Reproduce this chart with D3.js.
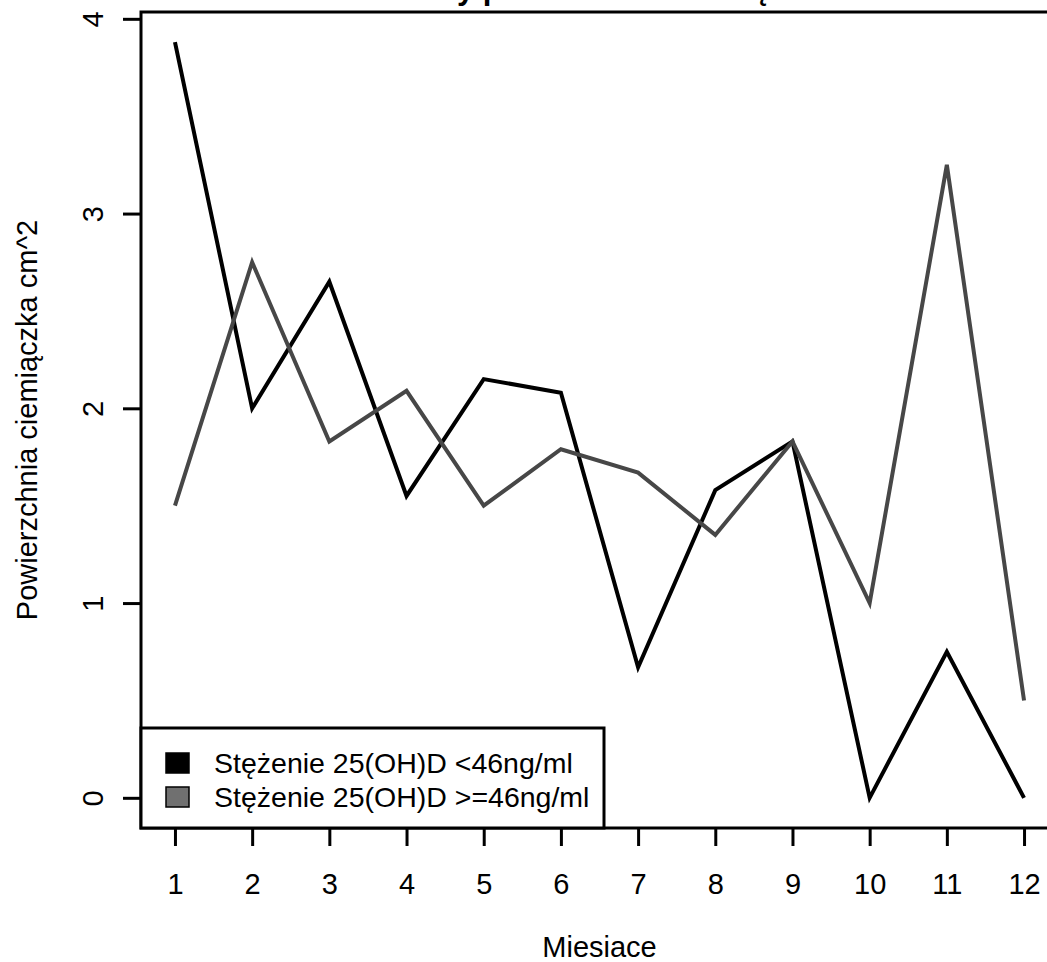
<!DOCTYPE html>
<html>
<head>
<meta charset="utf-8">
<script src="https://cdn.jsdelivr.net/npm/d3@7"></script>
<style>
  body { margin: 0; background: #fff; }
  svg text { font-family: "Liberation Sans", Arial, sans-serif; fill: #000; }
</style>
</head>
<body>
<div id="chart"></div>
<script>
// months on x axis
var months = [1, 2, 3, 4, 5, 6, 7, 8, 9, 10, 11, 12];
// Stezenie 25(OH)D <46ng/ml
var lowGroup = [3.88, 2.0, 2.65, 1.55, 2.15, 2.08, 0.67, 1.58, 1.83, 0, 0.75, 0];
// Stezenie 25(OH)D >=46ng/ml
var highGroup = [1.5, 2.75, 1.83, 2.09, 1.5, 1.79, 1.67, 1.35, 1.83, 1.0, 3.25, 0.5];
var yTicks = [0, 1, 2, 3, 4];
var seriesNames = ["Stężenie 25(OH)D <46ng/ml", "Stężenie 25(OH)D >=46ng/ml"];

var W = 1047, H = 962;
var fontSize = 29;

var svg = d3.select("#chart").append("svg")
	.attr("width", W)
	.attr("height", H);

// R style: axes extend 4% beyond the data range
var x = d3.scaleLinear().domain([0.56, 12.44]).range([141, 1058]);
var y = d3.scaleLinear().domain([-0.155, 4.035]).range([828, 12]);

var plotLeft = x.range()[0], plotRight = x.range()[1];
var plotBottom = y.range()[0], plotTop = y.range()[1];

// title (mostly cut off at the top edge, as in the source image)
svg.append("text")
	.attr("x", 600)
	.attr("y", -1)
	.attr("text-anchor", "middle")
	.style("font-size", "31px")
	.style("font-weight", "bold")
	.text("Zmiany powierzchni ciemiączka");

// x axis
var xAxis = svg.append("g")
	.attr("transform", "translate(0," + plotBottom + ")")
	.call(d3.axisBottom(x).tickValues(months).tickSize(18).tickFormat(d3.format("d")));
xAxis.select(".domain").remove();
xAxis.selectAll("line").attr("stroke", "#000").attr("stroke-width", 3);
xAxis.selectAll("text").style("font-size", fontSize + "px").attr("dy", "0.35em").attr("y", 56);

// y axis, labels rotated like R's default
var yAxis = svg.append("g")
	.attr("transform", "translate(" + plotLeft + ",0)")
	.call(d3.axisLeft(y).tickValues(yTicks).tickSize(18).tickFormat(d3.format("d")));
yAxis.select(".domain").remove();
yAxis.selectAll("line").attr("stroke", "#000").attr("stroke-width", 3);
yAxis.selectAll("text")
	.style("font-size", fontSize + "px")
	.attr("text-anchor", "middle")
	.attr("x", 0)
	.attr("y", -48)
	.attr("dy", "0.35em")
	.attr("transform", "rotate(-90)");

// axis titles
svg.append("text")
	.attr("x", (plotLeft + plotRight) / 2)
	.attr("y", 957)
	.attr("text-anchor", "middle")
	.style("font-size", fontSize + "px")
	.text("Miesiace");

svg.append("text")
	.attr("transform", "translate(37," + ((plotTop + plotBottom) / 2) + ") rotate(-90)")
	.attr("text-anchor", "middle")
	.style("font-size", fontSize + "px")
	.text("Powierzchnia ciemiączka cm^2");

// lines
var line = d3.line()
	.x(function(d, i) { return x(months[i]); })
	.y(function(d) { return y(d); });

var series = [
	{ values: lowGroup, color: "#000", fill: "#000" },
	{ values: highGroup, color: "#474747", fill: "#707070" }
];

svg.selectAll(".series")
	.data(series)
	.enter()
	.append("path")
	.attr("class", "series")
	.attr("d", function(d) { return line(d.values); })
	.attr("fill", "none")
	.attr("stroke", function(d) { return d.color; })
	.attr("stroke-width", 4)
	.attr("stroke-linejoin", "miter");

// plot box
svg.append("rect")
	.attr("x", plotLeft)
	.attr("y", plotTop)
	.attr("width", plotRight - plotLeft)
	.attr("height", plotBottom - plotTop)
	.attr("fill", "none")
	.attr("stroke", "#000")
	.attr("stroke-width", 3);

// legend, bottom left corner
var legend = svg.append("g");
legend.append("rect")
	.attr("x", plotLeft)
	.attr("y", 728)
	.attr("width", 604 - plotLeft)
	.attr("height", plotBottom - 728)
	.attr("fill", "#fff")
	.attr("stroke", "#000")
	.attr("stroke-width", 3);

var rows = legend.selectAll(".row")
	.data(series)
	.enter()
	.append("g")
	.attr("class", "row")
	.attr("transform", function(d, i) { return "translate(0," + (763 + i * 34) + ")"; });

rows.append("rect")
	.attr("x", 166)
	.attr("y", -10)
	.attr("width", 23)
	.attr("height", 20)
	.attr("fill", function(d) { return d.fill; })
	.attr("stroke", "#000")
	.attr("stroke-width", 1.5);

rows.append("text")
	.attr("x", 214)
	.attr("dy", "0.35em")
	.style("font-size", "28.5px")
	.text(function(d, i) { return seriesNames[i]; });
</script>
</body>
</html>
